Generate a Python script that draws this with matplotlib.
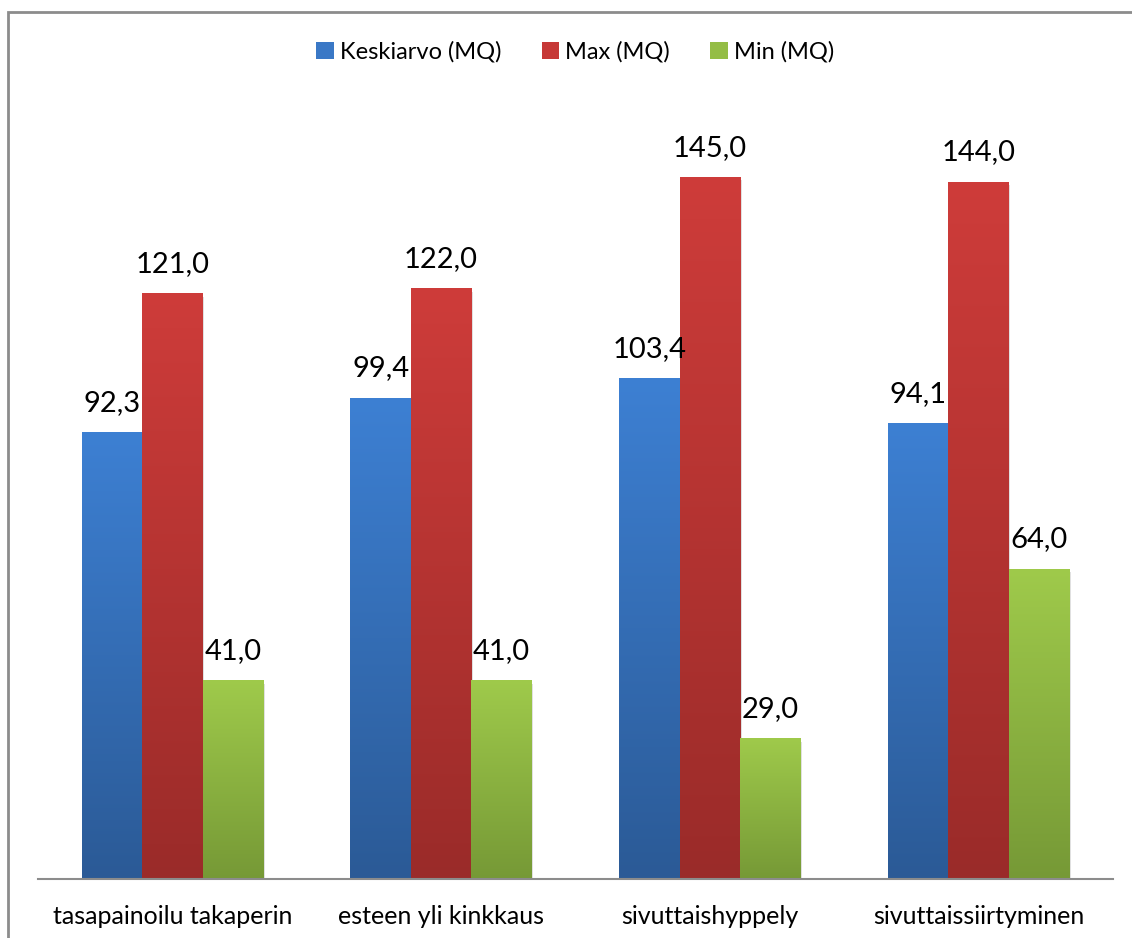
import numpy as np
import matplotlib.pyplot as plt
from matplotlib.patches import Patch, Rectangle
from matplotlib.colors import LinearSegmentedColormap

plt.rcParams['font.family'] = ['Lato', 'DejaVu Sans']

categories = ["tasapainoilu takaperin", "esteen yli kinkkaus",
              "sivuttaishyppely", "sivuttaissiirtyminen"]
series_names = ["Keskiarvo (MQ)", "Max (MQ)", "Min (MQ)"]
keskiarvo = [92.3, 99.4, 103.4, 94.1]
maksimi = [121.0, 122.0, 145.0, 144.0]
minimi = [41.0, 41.0, 29.0, 64.0]

# (top colour, bottom colour) for the gradient of each series
colours = [("#3d80d3", "#2b5a96"), ("#ce3c3a", "#9a2b29"), ("#9fca4b", "#769936")]
legend_colours = ["#3a78c6", "#c63836", "#94bd45"]

W, H = 1132, 938
fig = plt.figure(figsize=(W / 100, H / 100), dpi=100)
ax = fig.add_axes([38 / W, 59 / H, 1075 / W, 774 / H])

# outer frame of the chart
fig.patches.append(Rectangle((8 / W, -0.05), 1.2, 1 - 12 / H + 0.05,
                             transform=fig.transFigure, fill=False,
                             edgecolor="#8c8c8c", linewidth=2))

x = np.arange(len(categories))
bw = 0.225
grad = np.linspace(1, 0, 256).reshape(-1, 1)

for i, (vals, (c_top, c_bot)) in enumerate(zip([keskiarvo, maksimi, minimi], colours)):
    cmap = LinearSegmentedColormap.from_list("g%d" % i, [c_bot, c_top])
    offs = (i - 1) * bw
    for xi, v in zip(x, vals):
        x0 = xi + offs - bw / 2
        # soft shadow
        ax.add_patch(Rectangle((x0 + 0.006, 0), bw, v - 0.6, color="#000000",
                               alpha=0.12, linewidth=0, zorder=1))
        ax.imshow(grad, cmap=cmap, aspect="auto", extent=[x0, x0 + bw, 0, v],
                  zorder=2, interpolation="bicubic")
        ax.text(xi + offs, v + 3.5, f"{v:.1f}".replace(".", ","), ha="center",
                va="bottom", fontsize=21, color="#000000", zorder=3)

ax.set_xlim(-0.5, len(categories) - 0.5)
ax.set_ylim(0, 160)
ax.set_xticks(x)
ax.set_xticklabels(categories, fontsize=18)
ax.tick_params(axis="x", length=0, pad=19)
ax.set_yticks([])
for s in ["top", "right", "left"]:
    ax.spines[s].set_visible(False)
ax.spines["bottom"].set_color("#8c8c8c")
ax.spines["bottom"].set_linewidth(1.5)
ax.spines["bottom"].set_zorder(4)

handles = [Patch(facecolor=c, edgecolor="none") for c in legend_colours]
fig.legend(handles, series_names, loc="center", bbox_to_anchor=(0.508, 1 - 52 / H),
           ncol=3, frameon=False, fontsize=17, handlelength=0.75, handleheight=0.75,
           handletextpad=0.25, columnspacing=1.7)

fig.savefig("out.png", dpi=100)
